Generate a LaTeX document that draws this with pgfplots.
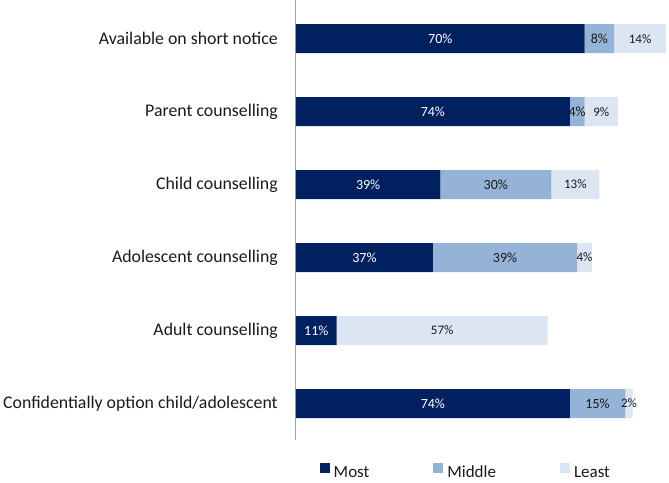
\documentclass[border=0pt]{standalone}
\usepackage{pgfplots}
\pgfplotsset{compat=1.18}
\usepackage{fontspec}
\setmainfont{Carlito}
\definecolor{cMost}{HTML}{002060}
\definecolor{cMid}{HTML}{95B3D7}
\definecolor{cLeast}{HTML}{DCE6F2}
\definecolor{axgray}{HTML}{A6A6A6}
\definecolor{txt}{HTML}{1A1A1A}
\begin{document}
\begin{tikzpicture}
\begin{axis}[
  at={(0,0)}, anchor=south west,
  scale only axis, width=370pt, height=440pt,
  xbar stacked, bar width=29pt,
  xmin=0, xmax=100,
  ymin=-0.53, ymax=5.5, y dir=reverse,
  ytick={0,1,2,3,4,5},
  yticklabels={Available on short notice, Parent counselling, Child counselling, Adolescent counselling, Adult counselling, Confidentially option child/adolescent},
  yticklabel style={font=\fontsize{17.8}{20}\selectfont, text=txt, inner sep=0pt, xshift=-18pt},
  major tick length=0pt,
  xtick=\empty,
  axis x line=none,
  axis y line=left,
  y axis line style={-, draw=axgray, line width=1pt},
  point meta=explicit symbolic,
  nodes near coords,
  nodes near coords align={center},
  every node near coord/.append style={anchor=center},
  legend style={at={(0.459,-0.073)}, anchor=center, legend columns=3, draw=none,
    font=\fontsize{17}{20}\selectfont, text=txt,
    /tikz/every odd column/.append style={column sep=2pt},
    /tikz/every even column/.append style={column sep=62pt}},
  legend image code/.code={\fill[#1] (0pt,0pt) rectangle (10pt,10pt);},
]
\addplot[fill=cMost, draw=none, every node near coord/.append style={text=white, font=\fontsize{14}{16}\selectfont}]
  coordinates {(78,0)[70\%] (74,1)[74\%] (39,2)[39\%] (37,3)[37\%] (11,4)[11\%] (74,5)[74\%]};
\addplot[fill=cMid, draw=none, every node near coord/.append style={text=txt, font=\fontsize{14}{16}\selectfont}]
  coordinates {(8,0)[8\%] (4,1)[4\%] (30,2)[30\%] (39,3)[39\%] (0,4)[{}] (15,5)[15\%]};
\addplot[fill=cLeast, draw=none, every node near coord/.append style={text=txt, font=\fontsize{13}{15}\selectfont}]
  coordinates {(14,0)[14\%] (9,1)[9\%] (13,2)[13\%] (4,3)[4\%] (57,4)[57\%] (2,5)[2\%]};
\legend{Most, Middle, Least}
\end{axis}
\pgfresetboundingbox
\path[use as bounding box] (-296pt,-42pt) rectangle (373pt,440pt);
\end{tikzpicture}
\end{document}
